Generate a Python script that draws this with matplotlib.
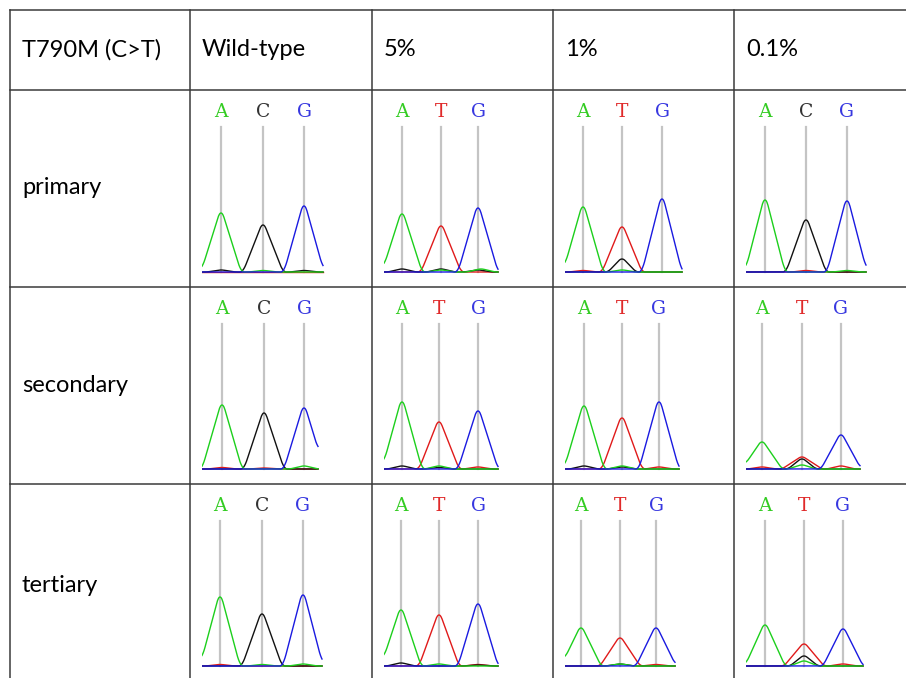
import numpy as np
import matplotlib.pyplot as plt

# table text
header = 'T790M (C>T)'
col_labels = ['Wild-type', '5%', '1%', '0.1%']
row_labels = ['primary', 'secondary', 'tertiary']

# base calls shown over each trace
calls = [['ACG', 'ATG', 'ATG', 'ACG'],
         ['ACG', 'ATG', 'ATG', 'ATG'],
         ['ACG', 'ATG', 'ATG', 'ATG']]

# peak positions (scan units from trace start) and heights
peak_pos = [[[19, 61, 102], [18, 57, 94], [18, 57, 97], [19, 60, 101]],
            [[20, 62, 102], [18, 55, 94], [19, 57, 94], [16, 56, 95]],
            [[18, 60, 101], [17, 55, 94], [16, 55, 91], [19, 58, 97]]]
peak_height = [[[59, 47, 66], [58, 46, 64], [65, 45, 73], [72, 52, 71]],
               [[64, 56, 61], [67, 47, 58], [63, 51, 67], [27, 12, 34]],
               [[69, 52, 71], [56, 51, 62], [38, 28, 38], [41, 22, 37]]]
trace_end = [[121, 114, 117, 120],
             [116, 114, 114, 114],
             [120, 114, 110, 117]]

# small background signals: (row, col, base, position, height)
minor = [(0, 0, 'C', 19, 2), (0, 0, 'A', 61, 1.5), (0, 0, 'C', 102, 1.5),
         (0, 1, 'C', 18, 3), (0, 1, 'C', 57, 3), (0, 1, 'A', 57, 2), (0, 1, 'C', 94, 2), (0, 1, 'A', 97, 3),
         (0, 2, 'C', 57, 13), (0, 2, 'A', 57, 2), (0, 2, 'T', 18, 1.5),
         (0, 3, 'T', 60, 1.5), (0, 3, 'A', 101, 1.5),
         (1, 0, 'T', 20, 1.5), (1, 0, 'A', 102, 3), (1, 0, 'T', 62, 1),
         (1, 1, 'C', 18, 3), (1, 1, 'A', 55, 3), (1, 1, 'C', 55, 1.5), (1, 1, 'T', 94, 2),
         (1, 2, 'C', 19, 3), (1, 2, 'A', 57, 3), (1, 2, 'C', 57, 2), (1, 2, 'T', 94, 2),
         (1, 3, 'C', 56, 10), (1, 3, 'A', 56, 4), (1, 3, 'T', 16, 2), (1, 3, 'T', 95, 3),
         (2, 0, 'T', 18, 1.5), (2, 0, 'A', 60, 1.5), (2, 0, 'A', 101, 2),
         (2, 1, 'C', 17, 3), (2, 1, 'A', 55, 2), (2, 1, 'T', 94, 1.5), (2, 1, 'C', 94, 1),
         (2, 2, 'C', 55, 2), (2, 2, 'A', 55, 2), (2, 2, 'T', 91, 1.5),
         (2, 3, 'C', 58, 10), (2, 3, 'A', 58, 5), (2, 3, 'T', 97, 2)]

base_color = {'A': '#1ccf1c', 'C': '#111111', 'G': '#1a1ae0', 'T': '#e01a1a'}
letter_color = {'A': '#33cc22', 'C': '#333333', 'G': '#3838e0', 'T': '#e02a2a'}

W, H = 906, 678
col_edges = [10, 190, 372, 553, 734]
row_edges = [10, 90, 287, 484]
row_mid = [50, 188, 386, 585]
txt_font = ['Lato', 'DejaVu Sans']

fig = plt.figure(figsize=(W / 100, H / 100), dpi=100)
grid = fig.add_axes([0, 0, 1, 1])
grid.set_xlim(0, W)
grid.set_ylim(H, 0)
grid.axis('off')

line_kw = dict(color='#3a3a3a', lw=1.1)
for y in row_edges:
    grid.plot([10, W], [y, y], **line_kw)
for x in col_edges:
    grid.plot([x, x], [10, H], **line_kw)

grid.text(22, row_mid[0], header, fontsize=17, family=txt_font, va='center')
for c, lab in enumerate(col_labels):
    grid.text(col_edges[c + 1] + 12, row_mid[0], lab, fontsize=17, family=txt_font, va='center')
for r, lab in enumerate(row_labels):
    grid.text(22, row_mid[r + 1], lab, fontsize=17, family=txt_font, va='center')


def peak(x, p, h, w=20.0):
    # triangle with a rounded top, scaled so its top reaches h
    tri = np.clip(1 - np.abs(x - p) / w, 0, None)
    k = np.ones(13) / 13
    sm = np.convolve(np.pad(tri, 6, mode='edge'), k, mode='valid')
    return h * sm / sm.max()


for r in range(3):
    for c in range(4):
        left = col_edges[c + 1] + 12
        base_y = row_edges[r + 1] + 182
        ax = fig.add_axes([left / W, 1 - (base_y + 3) / H, 130 / W, 175 / H])
        ax.set_xlim(0, 130)
        ax.set_ylim(-3, 172)
        ax.axis('off')
        x = np.linspace(0, trace_end[r][c], int(trace_end[r][c]) * 2 + 1)
        sig = {b: np.zeros_like(x) for b in 'ACGT'}
        for b, p, h in zip(calls[r][c], peak_pos[r][c], peak_height[r][c]):
            sig[b] += peak(x, p, h)
        for (mr, mc, b, p, h) in minor:
            if mr == r and mc == c:
                sig[b] += peak(x, p, h, 14)
        for b, p in zip(calls[r][c], peak_pos[r][c]):
            ax.plot([p, p], [0, 145], color='#c4c4c4', lw=1.6, zorder=1)
            ax.text(p, 160, b, color=letter_color[b], fontsize=13.5,
                    family='DejaVu Serif', ha='center', va='center')
        for b in ['T', 'C', 'A', 'G']:
            ax.plot(x, sig[b], color=base_color[b], lw=1.0, zorder=2)

fig.savefig('out.png', dpi=100)
